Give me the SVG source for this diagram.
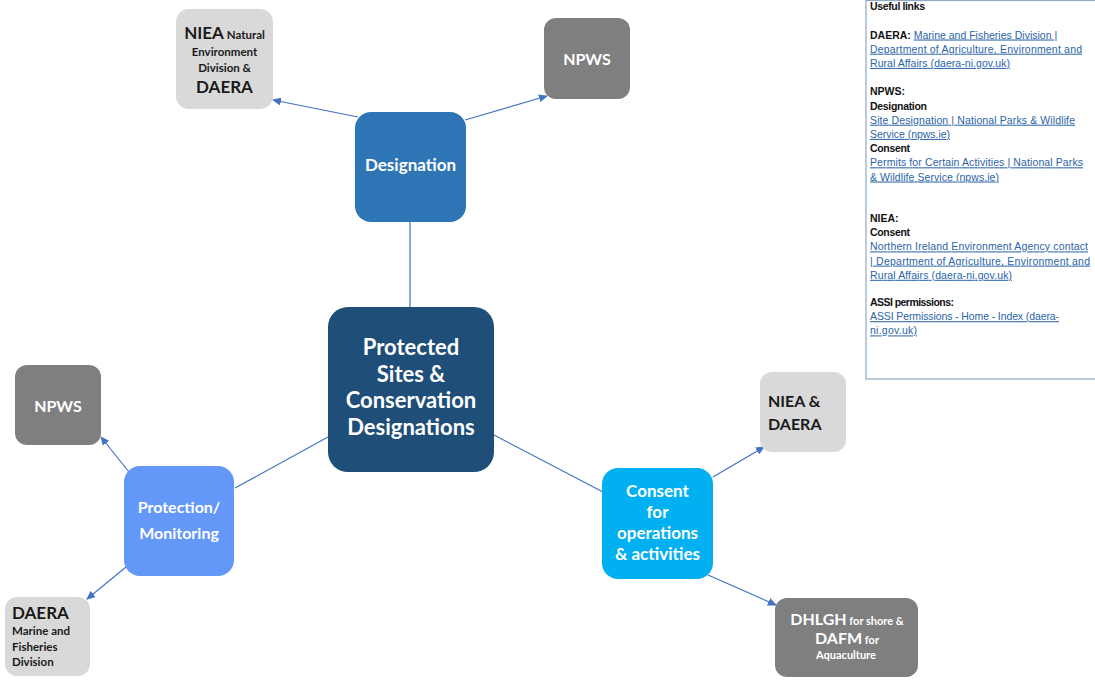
<svg xmlns="http://www.w3.org/2000/svg" width="1095" height="682" viewBox="0 0 1095 682">
<style>
.t{font-family:Lato,"Open Sans","Liberation Sans",sans-serif;font-weight:bold}
.w{fill:#ffffff}
.k{fill:#1a1a1a}
.c{text-anchor:middle}
.l{font-family:"Liberation Sans",Arial,sans-serif;font-size:10.5px;fill:#111}
.b{font-weight:bold}
.u{fill:#2a64a8;text-decoration:underline}
.cn{stroke:#4472c4;stroke-width:1.2;fill:none}
</style>
<defs>
<marker id="ah" markerWidth="9" markerHeight="8" refX="8" refY="4" orient="auto" markerUnits="userSpaceOnUse">
<path d="M0,0 L9,4 L0,8 z" fill="#4472c4"/>
</marker>
</defs>
<rect width="1095" height="682" fill="#ffffff"/>

<g id="connectors">
<line class="cn" x1="358" y1="117" x2="273" y2="100" marker-end="url(#ah)"/>
<line class="cn" x1="465" y1="120" x2="547" y2="96" marker-end="url(#ah)"/>
<line class="cn" x1="410" y1="222" x2="410" y2="307"/>
<line class="cn" x1="328" y1="437" x2="235" y2="488"/>
<line class="cn" x1="129" y1="472" x2="101" y2="437" marker-end="url(#ah)"/>
<line class="cn" x1="126" y1="567" x2="87" y2="599" marker-end="url(#ah)"/>
<line class="cn" x1="494" y1="435" x2="603" y2="492"/>
<line class="cn" x1="713" y1="477" x2="764" y2="447" marker-end="url(#ah)"/>
<line class="cn" x1="708" y1="575" x2="776" y2="605" marker-end="url(#ah)"/>
</g>

<g id="center">
<rect x="328" y="307" width="166" height="165" rx="20" fill="#1f4e79"/>
<text class="t w c" font-size="22" x="411" y="355">Protected</text>
<text class="t w c" font-size="22" x="411" y="381.5">Sites &amp;</text>
<text class="t w c" font-size="22" x="411" y="408">Conservation</text>
<text class="t w c" font-size="22" x="411" y="434.5">Designations</text>
</g>

<g id="designation">
<rect x="355" y="112" width="111" height="110" rx="16" fill="#2e75b6"/>
<text class="t w c" font-size="17" x="410.5" y="171">Designation</text>
</g>

<g id="niea-top">
<rect x="176" y="9" width="97" height="100" rx="13" fill="#d9d9d9"/>
<text class="t k c" x="224.5" y="39"><tspan font-size="17">NIEA</tspan><tspan font-size="11.5"> Natural</tspan></text>
<text class="t k c" font-size="11.5" x="224.5" y="56">Environment</text>
<text class="t k c" font-size="11.5" x="224.5" y="71.5">Division  &amp;</text>
<text class="t k c" font-size="17" x="224.5" y="93">DAERA</text>
</g>

<g id="npws-top">
<rect x="544" y="18" width="86" height="81" rx="12" fill="#7f7f7f"/>
<text class="t w c" font-size="16" x="587" y="65">NPWS</text>
</g>

<g id="protection">
<rect x="124" y="466" width="110" height="110" rx="16" fill="#6397f8"/>
<text class="t w c" font-size="16" x="179" y="513">Protection/</text>
<text class="t w c" font-size="16" x="179" y="539">Monitoring</text>
</g>

<g id="npws-left">
<rect x="15" y="365" width="86" height="80" rx="12" fill="#7f7f7f"/>
<text class="t w c" font-size="16" x="58" y="412">NPWS</text>
</g>

<g id="daera-bottom">
<rect x="5" y="597" width="85" height="79" rx="12" fill="#d9d9d9"/>
<text class="t k" font-size="17" x="12" y="619">DAERA</text>
<text class="t k" font-size="11.5" x="12" y="635">Marine and</text>
<text class="t k" font-size="11.5" x="12" y="651">Fisheries</text>
<text class="t k" font-size="11.5" x="12" y="666">Division</text>
</g>

<g id="consent">
<rect x="602" y="468" width="111" height="111" rx="16" fill="#00b0f0"/>
<text class="t w c" font-size="17" x="657.5" y="497">Consent</text>
<text class="t w c" font-size="17" x="657.5" y="518">for</text>
<text class="t w c" font-size="17" x="657.5" y="539">operations</text>
<text class="t w c" font-size="17" x="657.5" y="560">&amp; activities</text>
</g>

<g id="niea-daera">
<rect x="760" y="372" width="86" height="80" rx="12" fill="#d9d9d9"/>
<text class="t k" font-size="16" x="768" y="407">NIEA &amp;</text>
<text class="t k" font-size="16" x="768" y="430">DAERA</text>
</g>

<g id="dhlgh">
<rect x="775" y="598" width="143" height="79" rx="12" fill="#7f7f7f"/>
<text class="t w c" x="847" y="625"><tspan font-size="16">DHLGH</tspan><tspan font-size="11"> for shore &amp;</tspan></text>
<text class="t w c" x="847" y="644"><tspan font-size="16">DAFM</tspan><tspan font-size="11"> for</tspan></text>
<text class="t w c" font-size="11" x="846" y="659">Aquaculture</text>
</g>

<g id="links">
<rect x="866" y="0.5" width="240" height="378.5" fill="#ffffff" stroke="#8fa9c4" stroke-width="1.2"/>
<text class="l b" x="870" y="10" textLength="55">Useful links</text>
<text class="l" x="870" y="38.5"><tspan class="b">DAERA: </tspan><tspan class="u">Marine and Fisheries Division |</tspan></text>
<text class="l u" x="870" y="52.7" textLength="212">Department of Agriculture, Environment and</text>
<text class="l u" x="870" y="66.9" textLength="140">Rural Affairs (daera-ni.gov.uk)</text>
<text class="l b" x="870" y="95.3">NPWS:</text>
<text class="l b" x="870" y="109.5" textLength="57">Designation</text>
<text class="l u" x="870" y="123.7" textLength="205">Site Designation | National Parks &amp; Wildlife</text>
<text class="l u" x="870" y="137.9" textLength="80">Service (npws.ie)</text>
<text class="l b" x="870" y="152.1" textLength="40">Consent</text>
<text class="l u" x="870" y="166.3" textLength="213">Permits for Certain Activities | National Parks</text>
<text class="l u" x="870" y="180.5" textLength="129">&amp; Wildlife Service (npws.ie)</text>
<text class="l b" x="870" y="222">NIEA:</text>
<text class="l b" x="870" y="236.2" textLength="40">Consent</text>
<text class="l u" x="870" y="250.4" textLength="218">Northern Ireland Environment Agency contact</text>
<text class="l u" x="870" y="264.6" textLength="220">| Department of Agriculture, Environment and</text>
<text class="l u" x="870" y="278.8" textLength="142">Rural Affairs (daera-ni.gov.uk)</text>
<text class="l b" x="870" y="306" textLength="84">ASSI permissions:</text>
<text class="l u" x="870" y="320.2" textLength="189">ASSI Permissions - Home - Index (daera-</text>
<text class="l u" x="870" y="334.4" textLength="47">ni.gov.uk)</text>
</g>
</svg>
